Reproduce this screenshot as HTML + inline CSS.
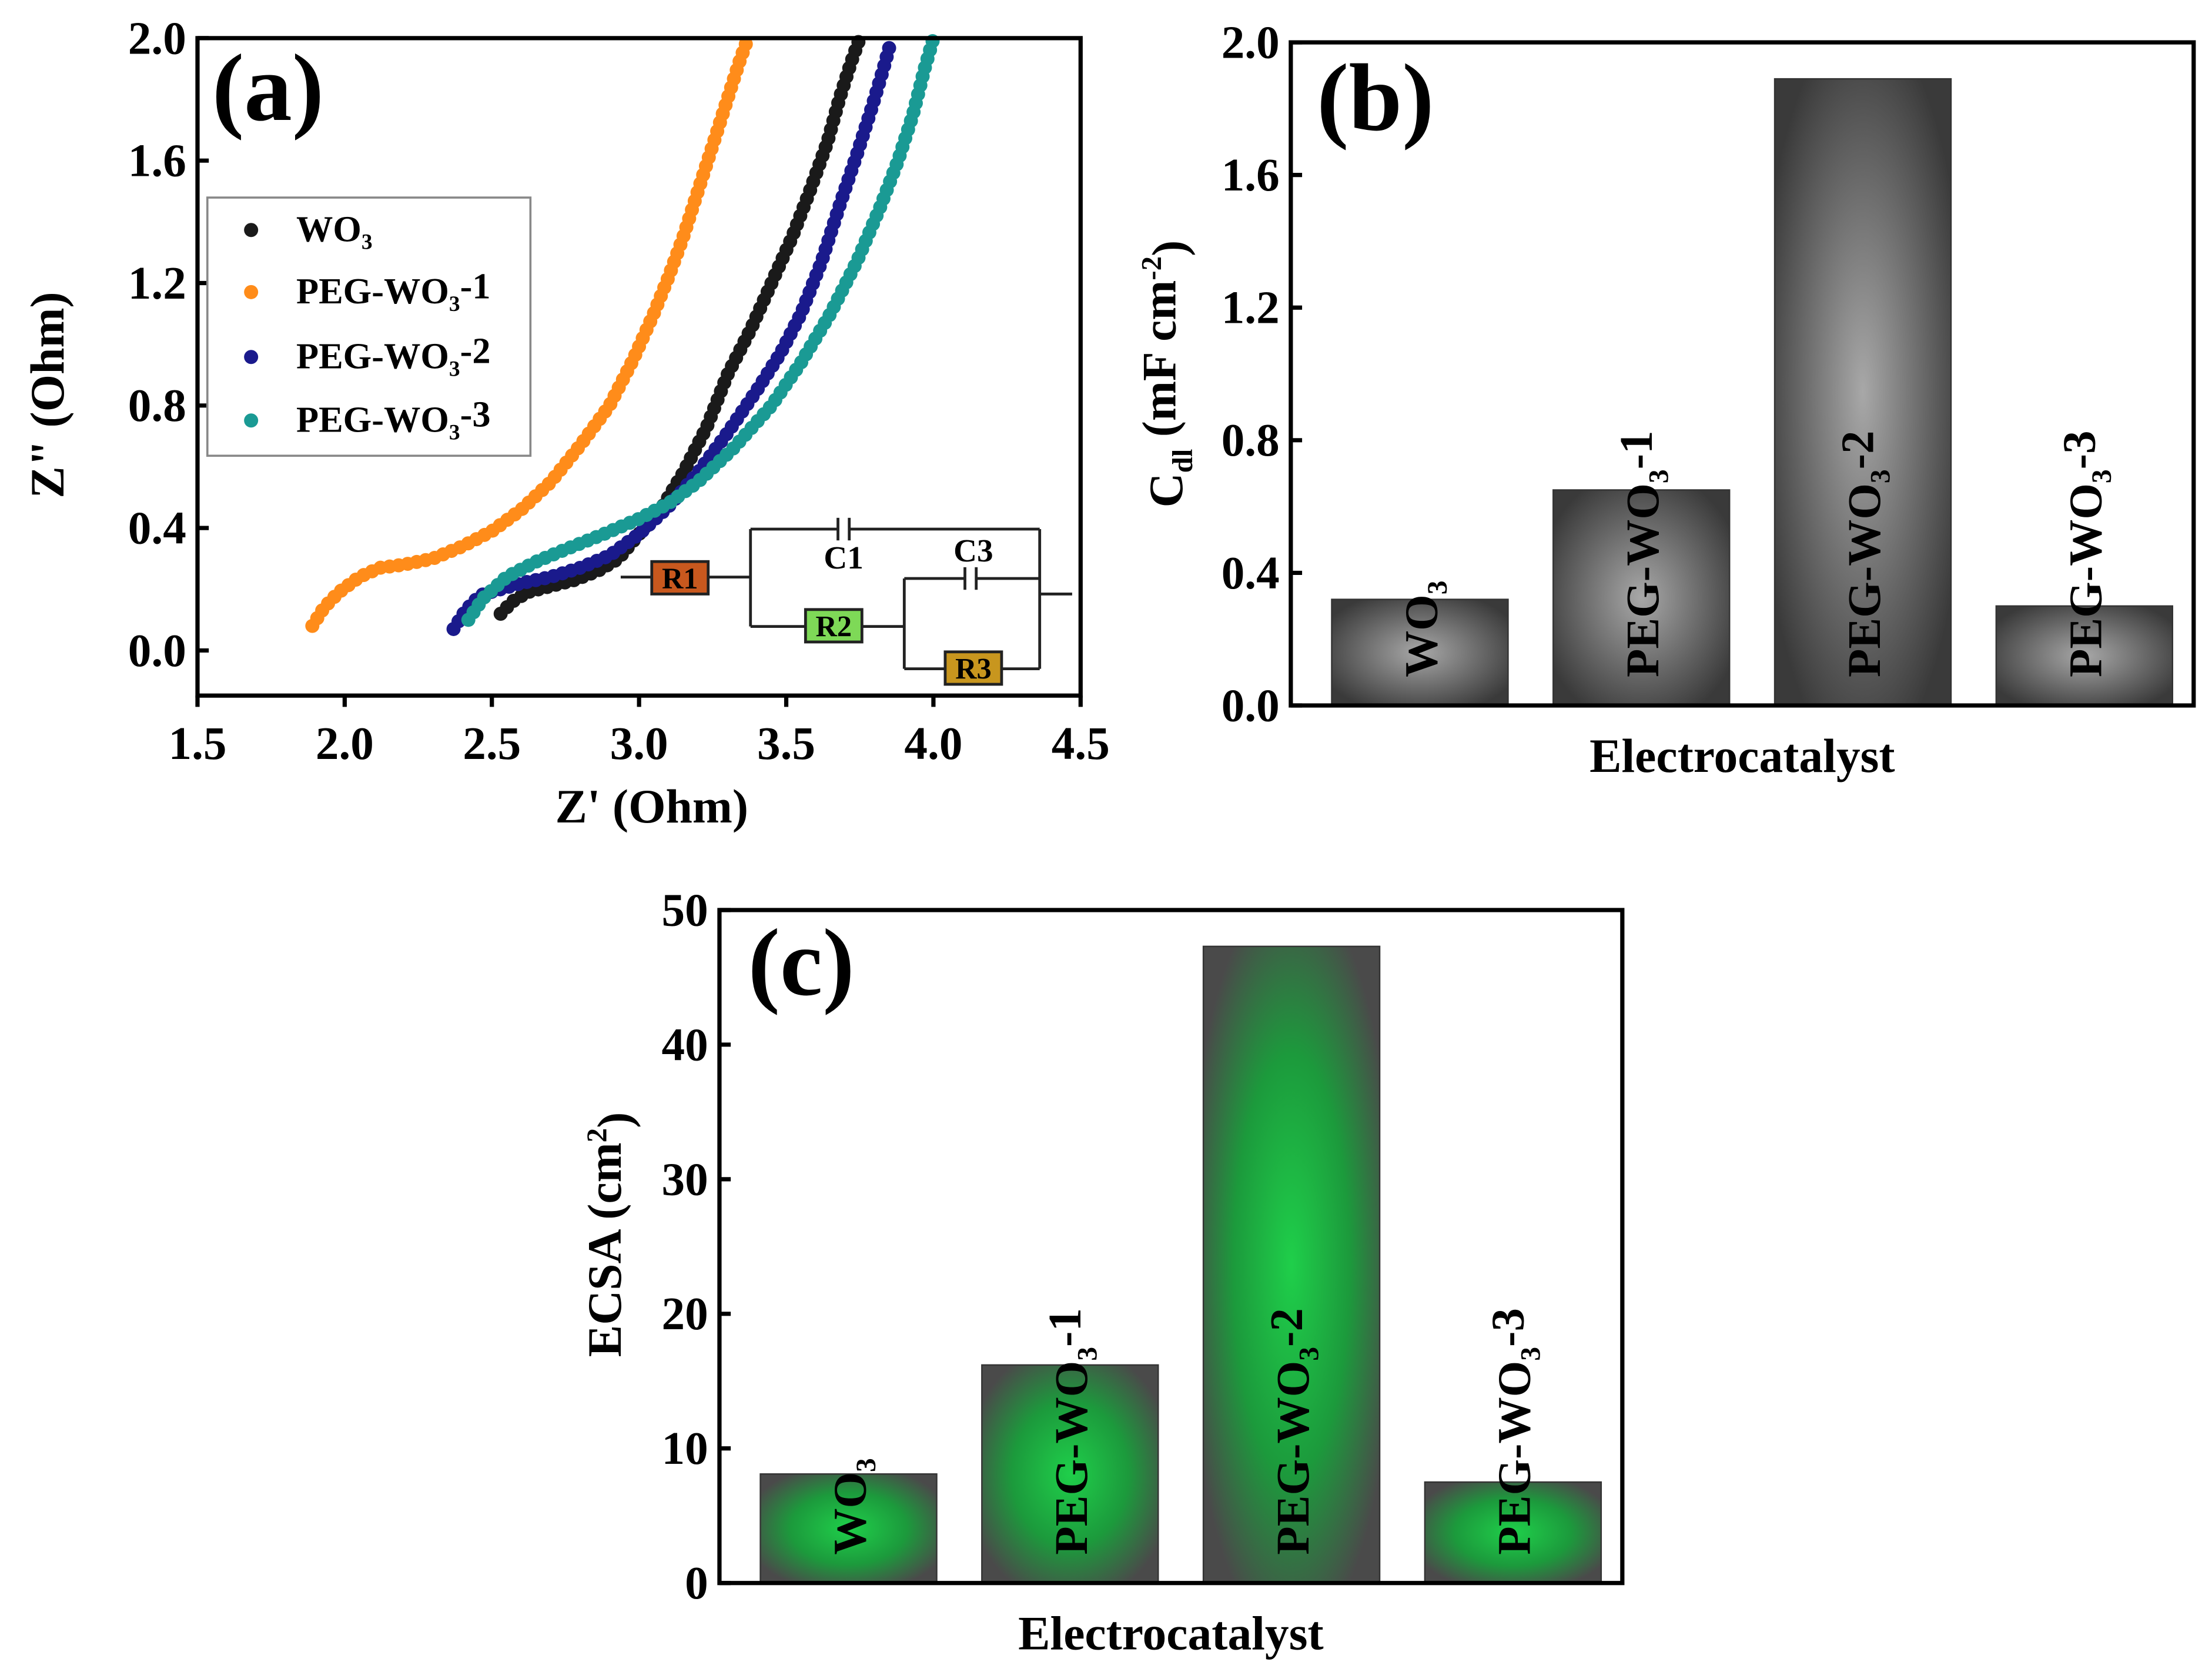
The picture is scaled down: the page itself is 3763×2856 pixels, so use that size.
<!DOCTYPE html>
<html><head><meta charset="utf-8"><style>
html,body{margin:0;padding:0;background:#fff}
svg{display:block}
text{font-family:"Liberation Serif",serif;font-weight:bold;fill:#000}
</style></head><body>
<svg id="fig" xmlns="http://www.w3.org/2000/svg" width="3763" height="2856" viewBox="0 0 1568 1190">
<defs>
<radialGradient id="gg" cx="0.5" cy="0.5" r="0.6"><stop offset="0" stop-color="#a8a8a8"/><stop offset="1" stop-color="#3a3a3a"/></radialGradient>
<radialGradient id="gn" cx="0.5" cy="0.5" r="0.6"><stop offset="0" stop-color="#1fcf4a"/><stop offset="0.55" stop-color="#1c9a3c"/><stop offset="1" stop-color="#4a4a4a"/></radialGradient>
</defs>
<g id="pa"></g>
<g id="pb"></g>
<g id="pc"></g>
</svg>
<script>
// Panel (a) data
const seriesNames = ["WO3","PEG-WO3-1","PEG-WO3-2","PEG-WO3-3"];
const seriesColors = ["#1a1a1a","#ff8c1a","#1a1a8c","#1a9a94"];
const wo3X = [2.53,2.57,2.62,2.7,2.78,2.86,2.93,3.0,3.08,3.15,3.23,3.3,3.38,3.45,3.52,3.58,3.64,3.68,3.72,3.75];
const wo3Y = [0.12,0.16,0.19,0.21,0.23,0.26,0.3,0.38,0.47,0.58,0.73,0.9,1.05,1.2,1.35,1.5,1.66,1.8,1.92,2.0];
const peg1X = [1.89,1.93,1.98,2.05,2.12,2.2,2.3,2.4,2.5,2.6,2.7,2.8,2.9,2.98,3.05,3.1,3.15,3.2,3.25,3.3,3.34,3.37];
const peg1Y = [0.08,0.14,0.19,0.24,0.27,0.28,0.3,0.34,0.39,0.46,0.55,0.67,0.8,0.95,1.1,1.22,1.35,1.5,1.65,1.8,1.92,2.0];
const peg2X = [2.37,2.41,2.46,2.53,2.6,2.7,2.8,2.9,3.0,3.1,3.2,3.3,3.4,3.48,3.55,3.62,3.68,3.74,3.79,3.83,3.85];
const peg2Y = [0.07,0.13,0.18,0.2,0.22,0.24,0.27,0.31,0.38,0.47,0.58,0.71,0.85,0.97,1.1,1.27,1.45,1.62,1.77,1.9,1.97];
const peg3X = [2.42,2.47,2.55,2.65,2.75,2.88,3.0,3.1,3.2,3.32,3.45,3.55,3.65,3.74,3.82,3.88,3.93,3.97,4.0];
const peg3Y = [0.1,0.17,0.24,0.29,0.33,0.38,0.43,0.48,0.55,0.66,0.8,0.94,1.1,1.27,1.45,1.6,1.75,1.9,2.0];
const aXTicks = [1.5,2.0,2.5,3.0,3.5,4.0,4.5];
const aYTicks = [0.0,0.4,0.8,1.2,1.6,2.0];
// Panel (b) data
const barCats = ["WO3","PEG-WO3-1","PEG-WO3-2","PEG-WO3-3"];
const cdlValues = [0.32,0.65,1.89,0.30];
const bYTicks = [0.0,0.4,0.8,1.2,1.6,2.0];
// Panel (c) data
const ecsaValues = [8.1,16.2,47.3,7.5];
const cYTicks = [0,10,20,30,40,50];

const NS="http://www.w3.org/2000/svg";
function mk(tag,attrs,parent){const e=document.createElementNS(NS,tag);for(const k in attrs)e.setAttribute(k,attrs[k]);parent.appendChild(e);return e;}
function txt(parent,x,y,size,content,anchor,rot){
  const t=mk('text',{x:x,y:y,'font-size':size,'text-anchor':anchor||'middle'},parent);
  if(rot)t.setAttribute('transform','rotate(-90 '+x+' '+y+')');
  t.innerHTML=content;return t;}
const sub='<tspan font-size="0.6em" dy="0.35em">3</tspan>';
function chem(name){
  if(name==="WO3")return 'WO'+sub;
  return name.replace('WO3-','WO'+sub+'<tspan dy="-0.35em">-</tspan>');
}

// ---------- Panel A ----------
const pa=document.getElementById('pa');
const aL=140,aR=766,aT=27,aB=493;
const ax=v=>aL+(v-1.5)/3.0*(aR-aL);
const ay=v=>461-(v/2.0)*(461-aT);
const seriesX=[wo3X,peg1X,peg2X,peg3X], seriesY=[wo3Y,peg1Y,peg2Y,peg3Y];
const drawOrder=[1,0,2,3];
drawOrder.forEach(i=>{
  let d='';seriesX[i].forEach((x,j)=>{d+=(j?'L':'M')+ax(x).toFixed(1)+' '+ay(seriesY[i][j]).toFixed(1)+' ';});
  const p=mk('path',{d:d,fill:'none',stroke:seriesColors[i],'stroke-width':10,'stroke-linecap':'round','stroke-linejoin':'round','stroke-dasharray':'0 6.5'},pa);
  
  
});
const fa=mk('rect',{x:aL,y:aT,width:aR-aL,height:aB-aT,fill:'none',stroke:'#000','stroke-width':3},pa);

aXTicks.forEach(v=>{const x=ax(v);mk('line',{x1:x,y1:aB,x2:x,y2:aB+8,stroke:'#000','stroke-width':3},pa);
  const t=txt(pa,x,aB+45,33,v.toFixed(1));});
aYTicks.forEach(v=>{const y=ay(v);mk('line',{x1:aL,y1:y,x2:aL+8,y2:y,stroke:'#000','stroke-width':3},pa);
  const t=txt(pa,aL-8,y+11,33,v.toFixed(1),'end');});
let t=txt(pa,462,583,34,"Z' (Ohm)");
t=txt(pa,45,280,34,'Z" (Ohm)','middle',true);
t=txt(pa,190,85,68,'(a)');
// legend
const lg=mk('g',{},pa);
mk('rect',{x:147,y:140,width:229,height:183,fill:'#fff',stroke:'#888','stroke-width':1.5},lg);
[163,207,253,298].forEach((y,i)=>{
  const c=mk('circle',{cx:178,cy:y,r:5,fill:seriesColors[i]},lg);
  
  const tt=txt(lg,210,y+8,26,seriesNames[i]==="WO3"?'WO'+sub:'PEG-WO'+sub+'<tspan dy="-0.35em">-'+seriesNames[i].slice(-1)+'</tspan>','start');
  
});
// circuit
const ci=mk('g',{stroke:'#222','stroke-width':2,fill:'none'},pa);
[[440,409,462,409],[502,409,532,409],[532,375,532,444],[532,375,594,375],[602,375,737,375],[594,367,594,383],[602,367,602,383],
 [532,444,571,444],[611,444,641,444],[641,410,641,474],[641,410,684,410],[692,410,737,410],[684,402,684,418],[692,402,692,418],
 [641,474,670,474],[710,474,737,474],[737,375,737,474],[737,421,760,421]].forEach(l=>mk('line',{x1:l[0],y1:l[1],x2:l[2],y2:l[3]},ci));
[[462,398,'#c8581e','R1'],[571,432,'#7ed957','R2'],[670,462,'#c8961e','R3']].forEach(b=>{
  mk('rect',{x:b[0],y:b[1],width:40,height:23,fill:b[2],stroke:'#222','stroke-width':2},ci);
  const r=txt(pa,b[0]+20,b[1]+19,21,b[3]);});
txt(pa,598,403,23,'C1');txt(pa,690,398,23,'C3');

// ---------- Bar panels ----------
function barPanel(g,L,R,T,B,vals,ticks,maxV,grad,fmt,tag){
  const by=v=>B-v/maxV*(B-T);
  const slot=157, bw=125;
  vals.forEach((v,i)=>{
    const x=L+29+slot*i;
    const r=mk('rect',{x:x,y:by(v),width:bw,height:B-by(v),fill:'url(#'+grad+')',stroke:'#333','stroke-width':1},g);
    
    
    const lx=x+bw/2+12;
    const lt=txt(g,lx,B-20,33,chem(barCats[i]),'start',true);
    
  });
  const f=mk('rect',{x:L,y:T,width:R-L,height:B-T,fill:'none',stroke:'#000','stroke-width':3},g);
  
  ticks.forEach(v=>{const y=by(v);mk('line',{x1:L,y1:y,x2:L+8,y2:y,stroke:'#000','stroke-width':3},g);
    const tl=txt(g,L-8,y+11,33,fmt(v),'end');});
  const xt=txt(g,(L+R)/2,B+47,34,'Electrocatalyst');
}
const pb=document.getElementById('pb');
barPanel(pb,915,1555,30,500,cdlValues,bYTicks,2.0,'gg',v=>v.toFixed(1),'b');
t=txt(pb,975,92,68,'(b)');
t=txt(pb,838,265,34,'C<tspan font-size="0.6em" dy="0.35em">dl</tspan><tspan dy="-0.35em"> (mF cm</tspan><tspan font-size="0.6em" dy="-0.5em">-2</tspan><tspan dy="0.5em">)</tspan>','middle',true);

const pc=document.getElementById('pc');
barPanel(pc,510,1150,645,1122,ecsaValues,cYTicks,50,'gn',v=>String(v),'c');
t=txt(pc,568,705,68,'(c)');
t=txt(pc,440,875,34,'ECSA (cm<tspan font-size="0.6em" dy="-0.5em">2</tspan><tspan dy="0.5em">)</tspan>','middle',true);

</script>
</body></html>
